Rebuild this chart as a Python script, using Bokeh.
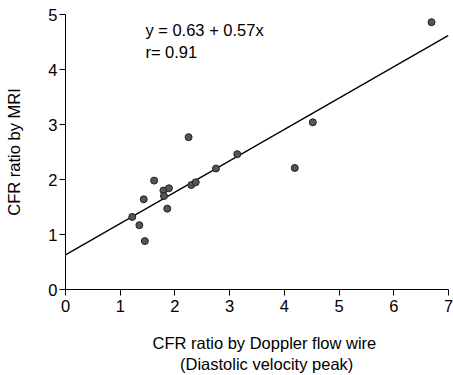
from bokeh.plotting import figure
from bokeh.models import Range1d, Label, ColumnDataSource, FixedTicker, Title
from bokeh.embed import file_html
from bokeh.resources import INLINE

# Data
doppler_cfr = [6.69, 4.52, 4.19, 3.14, 2.75, 2.25, 2.30, 2.38, 1.62, 1.79, 1.89, 1.80, 1.43, 1.86, 1.22, 1.35, 1.45]
mri_cfr = [4.86, 3.04, 2.21, 2.46, 2.20, 2.77, 1.90, 1.95, 1.98, 1.80, 1.84, 1.70, 1.64, 1.47, 1.32, 1.17, 0.88]
fit_intercept = 0.63
fit_slope = 0.57
fit_x = [0, 7]
x_ticks = [0, 1, 2, 3, 4, 5, 6, 7]
y_ticks = [0, 1, 2, 3, 4, 5]
eq_text = "y = 0.63 + 0.57x"
r_text = "r= 0.91"
x_label_1 = "CFR ratio by Doppler flow wire"
x_label_2 = "(Diastolic velocity peak)"
y_label = "CFR ratio by MRI"

FONT = "Liberation Sans"
FS = "16.5px"

p = figure(width=453, height=375, output_backend="svg", toolbar_location=None,
           x_range=Range1d(0, 7), y_range=Range1d(0, 5),
           min_border_left=65, min_border_right=5, min_border_top=14, min_border_bottom=83)
p.outline_line_color = None
p.xgrid.visible = False
p.ygrid.visible = False

for ax in (p.xaxis[0], p.yaxis[0]):
    ax.axis_line_color = "black"
    ax.major_tick_line_color = "black"
    ax.minor_tick_line_color = None
    ax.major_tick_in = 0
    ax.major_tick_out = 6
    ax.major_label_text_font = FONT
    ax.major_label_text_font_size = FS
    ax.major_label_text_color = "black"
    ax.axis_label_text_font = FONT
    ax.axis_label_text_font_size = FS
    ax.axis_label_text_font_style = "normal"
    ax.axis_label_text_color = "black"

p.xaxis.ticker = FixedTicker(ticks=x_ticks)
p.yaxis.ticker = FixedTicker(ticks=y_ticks)
p.xaxis.major_label_standoff = 4
p.yaxis.major_label_standoff = 2
p.yaxis.axis_label = y_label
p.yaxis.axis_label_standoff = 22

# regression line
fit_y = [fit_intercept + fit_slope * x for x in fit_x]
p.line(fit_x, fit_y, line_color="black", line_width=1.3)

src = ColumnDataSource(dict(x=doppler_cfr, y=mri_cfr))
p.scatter("x", "y", source=src, size=7, fill_color="#555555", line_color="#222222", line_width=1)

p.add_layout(Label(x=1.46, y=4.71, text=eq_text, text_font=FONT, text_font_size=FS,
                   text_baseline="middle", text_align="left", text_color="black"))
p.add_layout(Label(x=1.46, y=4.32, text=r_text, text_font=FONT, text_font_size=FS,
                   text_baseline="middle", text_align="left", text_color="black"))

# second line is indented so that both lines share the same centre
t1 = Title(text=x_label_1 + "\n" + "\u00a0" * 6 + x_label_2, align="left", offset=87, standoff=4,
           padding=(0, 0, 15, 0),
           text_font=FONT, text_font_size=FS, text_font_style="normal",
           text_color="black", text_line_height=1.2)
p.add_layout(t1, "below")

open("out.html", "w").write(file_html(p, INLINE))
